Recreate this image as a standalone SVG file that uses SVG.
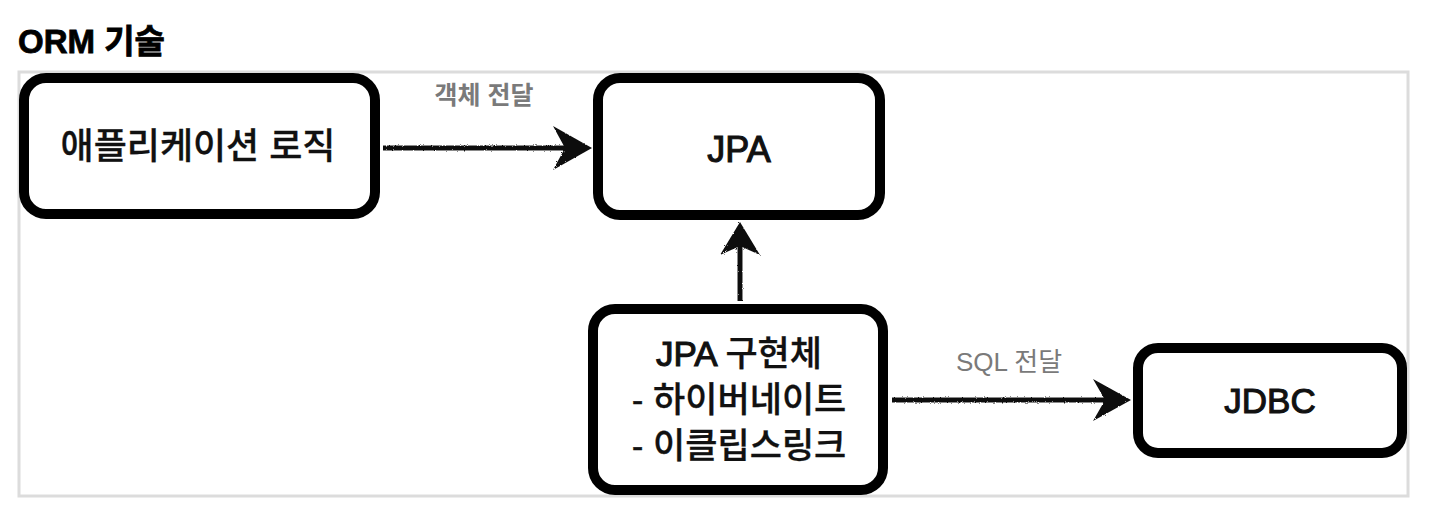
<svg xmlns="http://www.w3.org/2000/svg" width="1436" height="510" viewBox="0 0 1436 510">
<style>
.box{fill:#fff;stroke:#000;stroke-width:10}
.t{font-family:"Liberation Sans","Noto Sans CJK KR",sans-serif;fill:#111;text-anchor:middle;font-weight:500;stroke:#111;stroke-width:0.3}
.lat{stroke-width:1.1}
.lbl{font-family:"Liberation Sans","Noto Sans CJK KR",sans-serif;fill:#7a7a7a;text-anchor:middle}
.conn line{stroke:#111;stroke-width:5}
.conn path{fill:#111}
</style>
<defs>
<filter id="rough" x="-10%" y="-50%" width="120%" height="200%">
<feTurbulence type="fractalNoise" baseFrequency="0.9" numOctaves="2" seed="3"/>
<feDisplacementMap in="SourceGraphic" scale="2.5"/>
</filter>
</defs>
<rect width="1436" height="510" fill="#fff"/>
<text x="18" y="53" font-family="'Liberation Sans','Noto Sans CJK KR',sans-serif" font-weight="bold" font-size="33" fill="#000" stroke="#000" stroke-width="0.8">ORM 기술</text>
<rect id="frame" x="19" y="72" width="1389" height="424" fill="none" stroke="#dcdcdc" stroke-width="3"/>
<g class="conn" filter="url(#rough)">
<line x1="383" y1="148" x2="570" y2="148"/>
<path d="M592,148 L553,126 L565,148 L553,170 Z"/>
<line x1="740" y1="301" x2="740" y2="240"/>
<path d="M740,222 L720,255 L740,246 L760,255 Z"/>
<line x1="892" y1="400" x2="1110" y2="400"/>
<path d="M1131,400 L1093,379 L1105,400 L1093,421 Z"/>
</g>
<text class="lbl" x="484" y="104" font-size="25" font-weight="bold">객체 전달</text>
<text class="lbl" x="1009" y="371" font-size="26">SQL 전달</text>
<g id="app">
<rect class="box" x="24" y="78" width="351" height="136" rx="22"/>
<text class="t" x="198" y="159" font-size="36">애플리케이션 로직</text>
</g>
<g id="jpa">
<rect class="box" x="598" y="78" width="282" height="137" rx="22"/>
<text class="t lat" x="739" y="162" font-size="36">JPA</text>
</g>
<g id="impl">
<rect class="box" x="593" y="309" width="290" height="181" rx="22"/>
<text class="t" x="739" y="366" font-size="35"><tspan class="lat">JPA</tspan> 구현체</text>
<text class="t" x="739" y="412" font-size="35">- 하이버네이트</text>
<text class="t" x="739" y="458" font-size="35">- 이클립스링크</text>
</g>
<g id="jdbc">
<rect class="box" x="1138" y="348" width="264" height="105" rx="20"/>
<text class="t lat" x="1270" y="413" font-size="35">JDBC</text>
</g>
</svg>
